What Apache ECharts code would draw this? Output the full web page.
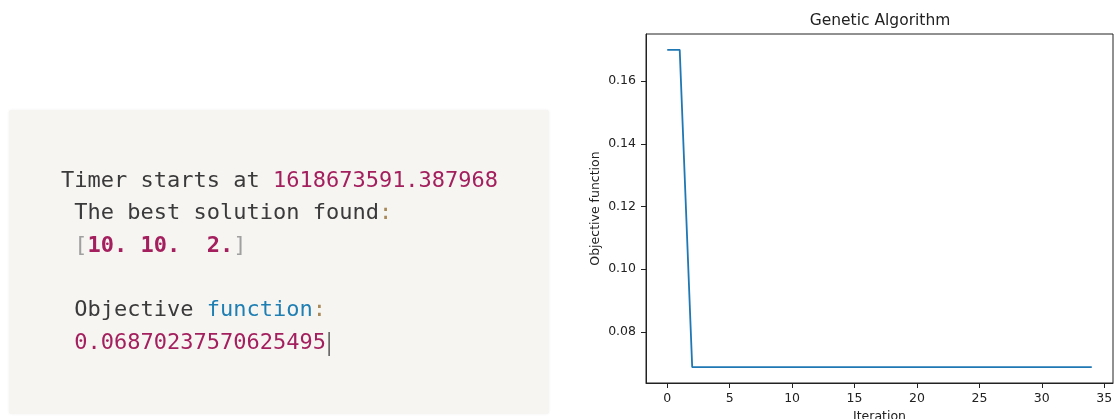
<!DOCTYPE html>
<html>
<head>
<meta charset="utf-8">
<script src="https://cdn.jsdelivr.net/npm/echarts@6/dist/echarts.min.js"></script>
<style>
  html, body { margin: 0; padding: 0; background: #ffffff; }
  #main { width: 1114px; height: 419px; }
</style>
</head>
<body>
<div id="main"></div>
<script>
// Run output of the genetic algorithm
const timerStart = '1618673591.387968';
const bestSolution = ['10.', '10.', ' 2.'];
const best = 0.06870237570625495;

// Objective value per iteration
const iterations = [0, 1, 2, 3, 4, 5, 6, 7, 8, 9, 10, 11, 12, 13, 14, 15, 16, 17,
  18, 19, 20, 21, 22, 23, 24, 25, 26, 27, 28, 29, 30, 31, 32, 33, 34];
const objective = [0.17, 0.17, best, best, best, best, best, best, best, best,
  best, best, best, best, best, best, best, best, best, best, best, best, best,
  best, best, best, best, best, best, best, best, best, best, best, best];

// Tick labels
const xTicks = [0, 5, 10, 15, 20, 25, 30, 35];
const yTicks = [0.08, 0.10, 0.12, 0.14, 0.16];

const chart = echarts.init(document.getElementById('main'), null, { renderer: 'canvas' });

const mono = 'DejaVu Sans Mono';
const sans = 'DejaVu Sans';
const codeSize = 22;
const codeRich = {
  t: { fontFamily: mono, fontSize: codeSize, fill: '#3a3a3a' },
  n: { fontFamily: mono, fontSize: codeSize, fill: '#a31f5d' },
  b: { fontFamily: mono, fontSize: codeSize, fill: '#a31f5d', fontWeight: 'bold' },
  c: { fontFamily: mono, fontSize: codeSize, fill: '#a8895a' },
  f: { fontFamily: mono, fontSize: codeSize, fill: '#1f7fb2' },
  g: { fontFamily: mono, fontSize: codeSize, fill: '#a0a0a0' }
};

const codeLines = [
  '{t|Timer starts at }{n|' + timerStart + '}',
  '{t| The best solution found}{c|:}',
  '{t| }{g|[}{b|' + bestSolution.join(' ') + '}{g|]}',
  '',
  '{t| Objective }{f|function}{c|:}',
  '{t| }{n|' + String(best) + '}'
];

const codeTop = 181;
const lineStep = 32.4;
const codeText = codeLines.map(function (s, i) {
  return {
    type: 'text',
    x: 61,
    y: codeTop + i * lineStep,
    style: {
      text: s,
      rich: codeRich,
      fontFamily: mono,
      fontSize: codeSize,
      fill: '#3a3a3a',
      verticalAlign: 'middle',
      align: 'left'
    },
    z: 10
  };
});

const option = {
  animation: false,
  backgroundColor: '#ffffff',
  grid: {
    left: 646,
    top: 34,
    width: 467,
    height: 349,
    containLabel: false,
    outerBoundsMode: 'none',
    show: true,
    borderColor: '#222',
    borderWidth: 1,
    backgroundColor: 'transparent'
  },
  xAxis: {
    type: 'value',
    min: -1.7,
    max: 35.7,
    name: 'Iteration',
    nameLocation: 'middle',
    nameGap: 26,
    nameTextStyle: { fontFamily: sans, fontSize: 12.5, color: '#222', verticalAlign: 'top' },
    axisLine: { show: true, onZero: false, lineStyle: { color: '#222', width: 1 } },
    axisTick: { show: true, inside: false, length: 5, customValues: xTicks, lineStyle: { color: '#222', width: 1 } },
    axisLabel: {
      show: true, customValues: xTicks, margin: 9,
      fontFamily: sans, fontSize: 12.5, color: '#222',
      formatter: function (v) { return String(v); }
    },
    splitLine: { show: false }
  },
  yAxis: {
    type: 'value',
    min: 0.06364,
    max: 0.17507,
    name: 'Objective function',
    nameLocation: 'middle',
    nameGap: 44,
    nameTextStyle: { fontFamily: sans, fontSize: 12.5, color: '#222' },
    axisLine: { show: true, onZero: false, lineStyle: { color: '#222', width: 1 } },
    axisTick: { show: true, inside: false, length: 5, customValues: yTicks, lineStyle: { color: '#222', width: 1 } },
    axisLabel: {
      show: true, customValues: yTicks, margin: 10,
      fontFamily: sans, fontSize: 12.5, color: '#222',
      formatter: function (v) { return v.toFixed(2); }
    },
    splitLine: { show: false }
  },
  series: [{
    type: 'line',
    data: iterations.map(function (it, i) { return [it, objective[i]]; }),
    showSymbol: false,
    symbol: 'none',
    lineStyle: { color: '#1f77b4', width: 1.8 },
    z: 3
  }],
  graphic: [
    {
      type: 'rect',
      shape: { x: 9, y: 110, width: 540, height: 304, r: 2 },
      style: { fill: '#f7f5f2', shadowBlur: 3, shadowColor: 'rgba(0,0,0,0.06)' },
      z: 1
    },
    {
      type: 'text',
      x: 880,
      y: 21,
      style: {
        text: 'Genetic Algorithm',
        fontFamily: sans,
        fontSize: 15.5,
        fill: '#222',
        align: 'center',
        verticalAlign: 'middle'
      },
      z: 10
    },
    {
      type: 'rect',
      shape: { x: 328.5, y: 332, width: 1.2, height: 24 },
      style: { fill: '#2f2f2f' },
      z: 11
    }
  ].concat(codeText)
};

chart.setOption(option);
</script>
</body>
</html>
